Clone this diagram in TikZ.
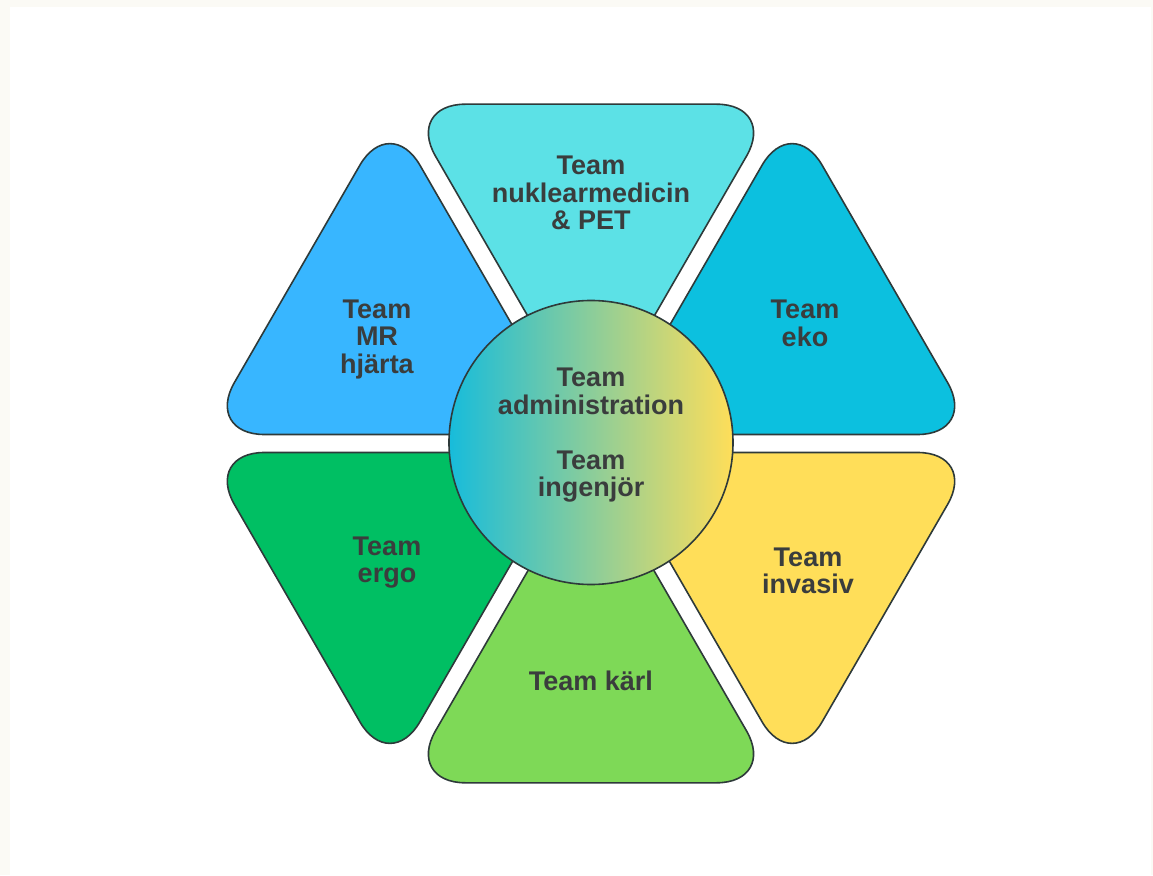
\documentclass[tikz,border=0pt]{standalone}
\usepackage{fontspec}
\setmainfont{Liberation Sans}
\usepackage{tikz}
\usetikzlibrary{shapes}

\definecolor{cream}{HTML}{FBFAF5}
\definecolor{edge}{HTML}{2E3A3A}
\definecolor{txt}{HTML}{3A3D3D}
\definecolor{nuklcol}{HTML}{5CE1E6}
\definecolor{ekocol}{HTML}{0CC0DF}
\definecolor{mrcol}{HTML}{38B6FF}
\definecolor{ergocol}{HTML}{00BF63}
\definecolor{karlcol}{HTML}{7ED957}
\definecolor{invcol}{HTML}{FFDE59}
\definecolor{hubleft}{HTML}{17BCDB}
\definecolor{hubright}{HTML}{FFDE59}

\begin{document}
\begin{tikzpicture}[x=1pt,y=1pt,line width=1.6pt,line join=round]
\tikzstyle{petal}=[draw=edge,rounded corners=60pt]
\tikzstyle{team}=[text=txt,align=center,font=\bfseries\fontsize{27}{27.5}\selectfont]
\tikzstyle{hub}=[circle,draw=edge,minimum size=284pt,inner sep=0pt,left color=hubleft,right color=hubright]
\useasboundingbox (-591,-431.5) rectangle (562,443.5);
\fill[cream] (-591,-431.5) rectangle (562,443.5);
\fill[white] (-581,-431.5) rectangle (560,436.5);

% six petals round the hub
\draw[petal,fill=nuklcol,shift={(90:18)}] (0,0) -- (60:371) -- (120:371) -- cycle;
\draw[petal,fill=ekocol,shift={(30:18)}] (0,0) -- (0:371) -- (60:371) -- cycle;
\draw[petal,fill=mrcol,shift={(150:18)}] (0,0) -- (120:371) -- (180:371) -- cycle;
\draw[petal,fill=ergocol,shift={(210:18)}] (0,0) -- (180:371) -- (240:371) -- cycle;
\draw[petal,fill=karlcol,shift={(270:18)}] (0,0) -- (240:371) -- (300:371) -- cycle;
\draw[petal,fill=invcol,shift={(330:18)}] (0,0) -- (300:371) -- (360:371) -- cycle;

\node[team] (nuklear) at (0,250.5) {Team\\nuklearmedicin\\\& PET};
\node[team] (eko) at (214,120) {Team\\eko};
\node[team] (mr) at (-214,104) {Team\\MR\\hjärta};
\node[team] (ergo) at (-204,-119) {Team\\ergo};
\node[team] (karl) at (0,-237.5) {Team kärl};
\node[team] (invasiv) at (217,-127.5) {Team\\invasiv};

\node[hub] (hub) at (0,1) {};
\node[team] (hubtext) at ([yshift=7pt]hub.center) {Team\\administration\\[27.5pt]Team\\ingenjör};
\end{tikzpicture}
\end{document}
